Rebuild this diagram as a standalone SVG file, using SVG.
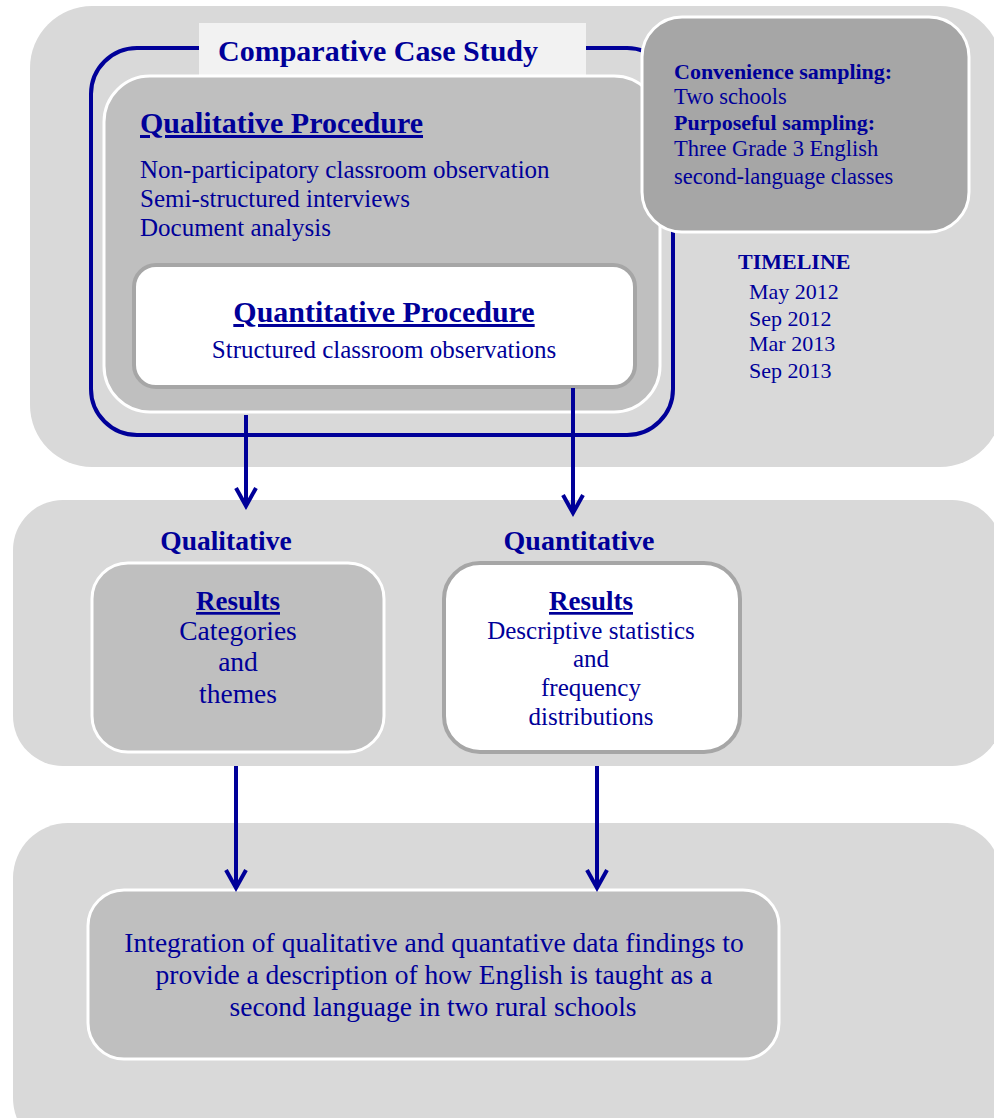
<svg xmlns="http://www.w3.org/2000/svg" width="994" height="1118" viewBox="0 0 994 1118">
<style>
text{font-family:"Liberation Serif","Times New Roman",serif;fill:#000099}
.b{font-weight:bold}
.u{text-decoration:underline}
.panel{fill:#d9d9d9}
.gbox{fill:#bfbfbf;stroke:#ffffff;stroke-width:3}
.wbox{fill:#ffffff;stroke:#a6a6a6;stroke-width:4}
.conn{stroke:#000099;stroke-width:4;fill:none}
</style>
<defs>
<marker id="ah" markerUnits="userSpaceOnUse" markerWidth="30" markerHeight="30" refX="24" refY="15" orient="auto" viewBox="0 0 30 30">
<path d="M6,5 L24,15 L6,25" fill="none" stroke="#000099" stroke-width="4" stroke-linejoin="miter"/>
</marker>
</defs>
<g id="panel-top"><rect class="panel" x="30" y="6" width="972" height="461" rx="62"/></g>
<g id="panel-mid"><rect class="panel" x="13" y="500" width="989" height="266" rx="50"/></g>
<g id="panel-bottom"><rect class="panel" x="13" y="823" width="989" height="330" rx="55"/></g>

<g id="case-study">
<rect x="91" y="48" width="582" height="387" rx="46" fill="none" stroke="#000099" stroke-width="4"/>
<rect x="199" y="23" width="387" height="54" fill="#f2f2f2"/>
<text class="b" x="378" y="61" font-size="30" text-anchor="middle">Comparative Case Study</text>
</g>

<g id="qual-procedure">
<rect class="gbox" x="104" y="76" width="556" height="336" rx="46"/>
<text class="b u" x="140" y="133" font-size="30">Qualitative Procedure</text>
<text x="140" y="178" font-size="25">Non-participatory classroom observation</text>
<text x="140" y="207" font-size="25">Semi-structured interviews</text>
<text x="140" y="236" font-size="25">Document analysis</text>
</g>

<g id="quant-procedure">
<rect class="wbox" x="134" y="265" width="501" height="122" rx="22"/>
<text class="b u" x="384" y="322" font-size="30" text-anchor="middle">Quantitative Procedure</text>
<text x="384" y="358" font-size="25" text-anchor="middle">Structured classroom observations</text>
</g>

<g id="sampling">
<rect x="642" y="17" width="327" height="215" rx="40" fill="#a6a6a6" stroke="#ffffff" stroke-width="3"/>
<text class="b" x="674" y="79" font-size="22">Convenience sampling:</text>
<text x="674" y="104" font-size="22.5">Two schools</text>
<text class="b" x="674" y="130" font-size="22">Purposeful sampling:</text>
<text x="674" y="156" font-size="22.5">Three Grade 3 English</text>
<text x="674" y="184" font-size="22.5">second-language classes</text>
</g>

<g id="timeline">
<text class="b" x="738" y="269" font-size="22">TIMELINE</text>
<text x="749" y="299" font-size="22">May 2012</text>
<text x="749" y="326" font-size="22">Sep 2012</text>
<text x="749" y="351" font-size="22">Mar 2013</text>
<text x="749" y="378" font-size="22">Sep 2013</text>
</g>

<g id="qual-results">
<text class="b" x="226" y="550" font-size="27.5" text-anchor="middle">Qualitative</text>
<rect class="gbox" x="92" y="563" width="292" height="189" rx="36"/>
<text class="b u" x="238" y="610" font-size="27" text-anchor="middle">Results</text>
<text x="238" y="640" font-size="27.5" text-anchor="middle">Categories</text>
<text x="238" y="671" font-size="27.5" text-anchor="middle">and</text>
<text x="238" y="703" font-size="27.5" text-anchor="middle">themes</text>
</g>

<g id="quant-results">
<text class="b" x="579" y="550" font-size="28" text-anchor="middle">Quantitative</text>
<rect class="wbox" x="444" y="563" width="296" height="189" rx="36"/>
<text class="b u" x="591" y="610" font-size="27" text-anchor="middle">Results</text>
<text x="591" y="639" font-size="25" text-anchor="middle">Descriptive statistics</text>
<text x="591" y="667" font-size="25" text-anchor="middle">and</text>
<text x="591" y="696" font-size="25" text-anchor="middle">frequency</text>
<text x="591" y="725" font-size="25" text-anchor="middle">distributions</text>
</g>

<g id="integration">
<rect class="gbox" x="88" y="890" width="691" height="169" rx="36"/>
<text x="434" y="952" font-size="27.5" text-anchor="middle">Integration of qualitative and quantative data findings to</text>
<text x="434" y="984" font-size="27.5" text-anchor="middle">provide a description of how English is taught as a</text>
<text x="433" y="1016" font-size="27.5" text-anchor="middle">second language in two rural schools</text>
</g>

<g id="connectors">
<line class="conn" x1="246" y1="415" x2="246" y2="506" marker-end="url(#ah)"/>
<line class="conn" x1="573" y1="388" x2="573" y2="513" marker-end="url(#ah)"/>
<line class="conn" x1="236" y1="766" x2="236" y2="888" marker-end="url(#ah)"/>
<line class="conn" x1="597" y1="766" x2="597" y2="888" marker-end="url(#ah)"/>
</g>
</svg>
